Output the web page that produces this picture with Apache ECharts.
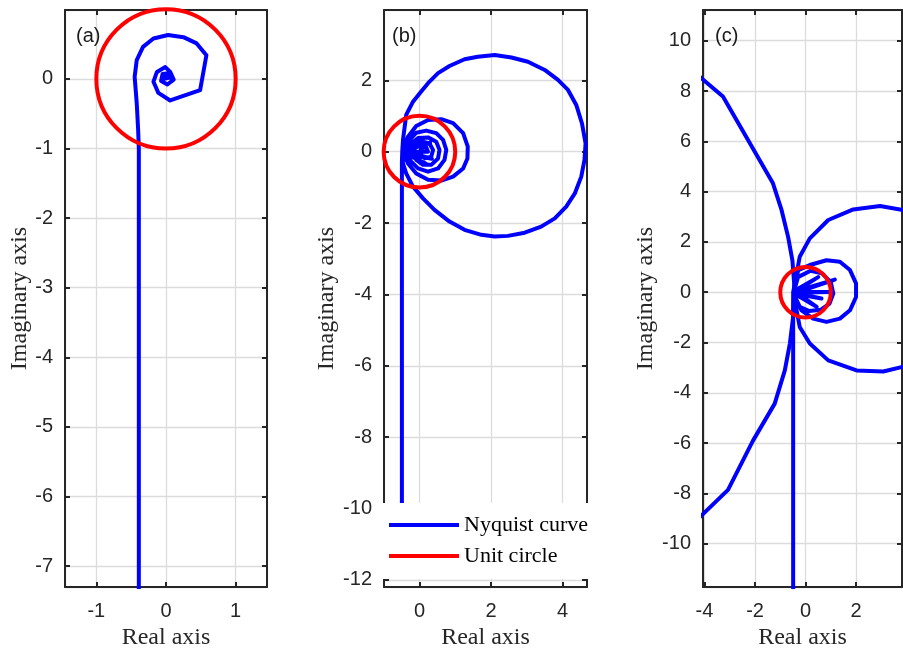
<!DOCTYPE html>
<html><head><meta charset="utf-8">
<script src="https://cdn.jsdelivr.net/npm/echarts@6/dist/echarts.min.js"></script>
<style>html,body{margin:0;padding:0;background:#fff}#c{width:903px;height:653px}</style>
</head><body><div id="c"></div>
<script>
// ---------- data ----------
const panelLabels = ['(a)', '(b)', '(c)'];
const xName = 'Real axis';
const yName = 'Imaginary axis';
const legendNames = ['Nyquist curve', 'Unit circle'];

const xRanges = [[-1.45, 1.45], [-0.99, 4.68], [-4.06, 3.82]];
const yRanges = [[-7.3, 0.99], [-12.2, 3.97], [-11.72, 11.22]];
const xSteps = [1, 2, 2];
const ySteps = [1, 2, 2];

// panel (a) Nyquist curve
const nyqA = [
  [-0.39, -7.6], [-0.39, -1.0], [-0.40, -0.73], [-0.42, -0.35], [-0.45, 0.03],
  [-0.42, 0.27], [-0.33, 0.46], [-0.18, 0.58], [0.03, 0.63], [0.25, 0.60],
  [0.44, 0.51], [0.58, 0.34], [0.49, -0.16], [0.06, -0.31], [-0.11, -0.20],
  [-0.18, -0.04], [-0.13, 0.10], [-0.01, 0.17], [0.06, 0.10], [0.11, -0.01],
  [0.02, -0.08], [-0.07, -0.03], [-0.05, 0.07], [0.03, 0.08], [0.06, 0.02],
  [-0.03, 0.00], [0.02, 0.05], [0.00, 0.01]
];

// panel (b) Nyquist curve
const nyqB = [
  [-0.49, -11.85], [-0.49, -0.3], [-0.48, 0.0], [-0.46, 0.33], [-0.37, 1.03], [-0.18, 1.40],
  [0.01, 1.64], [0.24, 1.92], [0.52, 2.20], [0.84, 2.40], [1.26, 2.59],
  [1.63, 2.66], [2.10, 2.71], [2.57, 2.64], [3.03, 2.52], [3.50, 2.29],
  [3.87, 2.01], [4.15, 1.73], [4.38, 1.31], [4.54, 0.79], [4.64, 0.23],
  [4.61, -0.23], [4.52, -0.70], [4.34, -1.17], [4.10, -1.54], [3.78, -1.87],
  [3.40, -2.10], [2.94, -2.27], [2.47, -2.36], [2.10, -2.38], [1.73, -2.33],
  [1.26, -2.19], [0.84, -1.96], [0.42, -1.63], [0.10, -1.31], [-0.18, -0.98],
  [-0.37, -0.61], [-0.46, -0.33], [-0.48, 0.0],
  [-0.32, 0.42], [-0.09, 0.72], [0.24, 0.89], [0.61, 0.91], [0.94, 0.80],
  [1.22, 0.52], [1.35, 0.14], [1.34, -0.19], [1.22, -0.47], [0.94, -0.70],
  [0.61, -0.81], [0.24, -0.79], [-0.09, -0.61], [-0.32, -0.33], [-0.45, 0.0],
  [-0.27, 0.33], [-0.09, 0.53], [0.19, 0.59], [0.47, 0.52], [0.66, 0.33],
  [0.75, 0.05], [0.70, -0.23], [0.52, -0.47], [0.24, -0.56], [-0.04, -0.47],
  [-0.23, -0.28], [-0.40, 0.0],
  [-0.23, 0.23], [-0.04, 0.38], [0.24, 0.40], [0.47, 0.28], [0.56, 0.05],
  [0.52, -0.19], [0.33, -0.37], [0.10, -0.37], [-0.09, -0.23], [-0.18, -0.05],
  [-0.09, 0.19], [0.10, 0.28], [0.28, 0.23], [0.38, 0.05], [0.33, -0.14],
  [0.15, -0.19], [0.01, -0.05], [0.05, 0.10], [0.19, 0.12], [0.24, 0.0],
  [-0.48, 0.0], [0.30, 0.25], [-0.48, 0.05], [0.35, -0.20], [-0.48, -0.05],
  [0.10, 0.35], [-0.48, 0.0], [0.20, -0.35], [-0.48, 0.0]
];

// panel (c) Nyquist curve: outer left branches
const nyqC1 = [
  [-4.3, 8.66], [-3.27, 7.78], [-1.29, 4.33], [-0.95, 3.27], [-0.69, 2.20],
  [-0.52, 1.27], [-0.45, 0.35], [-0.45, 0.0], [-0.49, -0.98], [-0.62, -2.04],
  [-0.82, -3.11], [-1.22, -4.43], [-2.08, -5.90], [-3.07, -7.86], [-4.3, -9.05]
];
// panel (c) Nyquist curve: vertical asymptote and loops
const nyqC2 = [
  [-0.49, -12.2], [-0.49, 0.0], [-0.45, 0.2], [-0.23, 1.41], [0.17, 2.14],
  [0.90, 2.87], [1.89, 3.29], [2.95, 3.43], [3.86, 3.27], [4.6, 2.9],
  [4.6, -2.6], [3.92, -2.95], [3.08, -3.15], [2.02, -3.11], [0.90, -2.71],
  [0.17, -2.04], [-0.23, -1.38], [-0.45, -0.2],
  [-0.45, 0.1], [-0.29, 0.88], [0.17, 1.08], [0.83, 1.27], [1.36, 1.21],
  [1.76, 0.88], [2.00, 0.35], [2.00, -0.19], [1.76, -0.72], [1.36, -1.05],
  [0.83, -1.18], [0.30, -1.05], [-0.16, -0.72], [-0.45, -0.1],
  [-0.45, 0.05], [-0.3, 0.6], [0.2, 0.85], [0.65, 0.75], [1.0, 0.4],
  [1.1, -0.05], [0.95, -0.45], [0.6, -0.7], [0.15, -0.75], [-0.3, -0.55],
  [-0.45, -0.05],
  [-0.45, 0.0], [1.16, 0.50], [-0.45, 0.02], [0.96, 0.01], [-0.45, -0.02],
  [0.63, -0.25], [-0.45, -0.05], [0.44, -0.58], [-0.45, 0.05], [0.5, 0.6],
  [-0.45, 0.0]
];

// unit circle: centre x, centre y, radius
const unitCircle = [[0, 0, 1]];

// ---------- layout / style ----------
const grids = [
  { left: 65, top: 10, width: 202, height: 577 },
  { left: 384, top: 10, width: 203, height: 577 },
  { left: 703, top: 10, width: 199, height: 577 }
];
const yNameGaps = [29, 37, 41];
const labelPos = [[76, 26], [392, 26], [715, 26]];
const frame = '#262626';
const txt = '#262626';

function mkAxis(dim, i, primary) {
  const rng = dim === 'x' ? xRanges[i] : yRanges[i];
  const step = dim === 'x' ? xSteps[i] : ySteps[i];
  const ax = {
    type: 'value', gridIndex: i, min: rng[0], max: rng[1],
    minInterval: step, maxInterval: step, splitNumber: 8,
    position: dim === 'x' ? (primary ? 'bottom' : 'top') : (primary ? 'left' : 'right'),
    axisLine: { show: true, onZero: false, lineStyle: { color: frame, width: 2 } },
    axisTick: { show: true, inside: true, length: 5, lineStyle: { color: frame, width: 2 } },
    splitLine: { show: primary, lineStyle: { color: '#dcdcdc', width: 1.3 } },
    axisLabel: {
      show: primary, showMinLabel: false, showMaxLabel: false, margin: dim === 'x' ? 14 : 12,
      fontFamily: 'Liberation Sans', fontSize: 20, color: txt
    },
    silent: true
  };
  if (primary) {
    ax.name = dim === 'x' ? xName : yName;
    ax.nameLocation = 'middle';
    ax.nameGap = dim === 'x' ? 39 : yNameGaps[i];
    ax.nameTextStyle = { fontFamily: 'Liberation Serif', fontSize: 24, color: txt };
  }
  return ax;
}

const xAxes = [], yAxes = [];
for (let i = 0; i < 3; i++) {
  xAxes.push(mkAxis('x', i, true), mkAxis('x', i, false));
  yAxes.push(mkAxis('y', i, true), mkAxis('y', i, false));
}

function nyq(data, i) {
  return {
    type: 'line', name: legendNames[0], data: data,
    xAxisIndex: 2 * i, yAxisIndex: 2 * i,
    showSymbol: false, symbol: 'none', clip: true, silent: true, z: 2,
    itemStyle: { color: '#0000ff' },
    lineStyle: { color: '#0000ff', width: 4, join: 'round' }
  };
}
function circ(i) {
  return {
    type: 'custom', name: legendNames[1], data: unitCircle,
    xAxisIndex: 2 * i, yAxisIndex: 2 * i, clip: false, silent: true, z: 3,
    encode: { x: 0, y: 1 },
    itemStyle: { color: '#ff0000' },
    renderItem: function (params, api) {
      const c = api.coord([api.value(0), api.value(1)]);
      const r = api.size([api.value(2), 0])[0];
      return { type: 'circle', shape: { cx: c[0], cy: c[1], r: r },
        style: { fill: 'none', stroke: '#ff0000', lineWidth: 4 } };
    }
  };
}

const series = [
  nyq(nyqA, 0), circ(0),
  nyq(nyqB, 1), circ(1),
  nyq(nyqC1, 2), nyq(nyqC2, 2), circ(2)
];

const chart = echarts.init(document.getElementById('c'), null, { renderer: 'canvas' });
chart.setOption({
  animation: false,
  backgroundColor: '#fff',
  grid: grids.map(g => Object.assign({ show: false, containLabel: false, outerBoundsMode: 'none' }, g)),
  xAxis: xAxes,
  yAxis: yAxes,
  title: panelLabels.map((t, i) => ({
    text: t, left: labelPos[i][0], top: labelPos[i][1], padding: 0,
    textStyle: { fontFamily: 'Liberation Sans', fontSize: 20, fontWeight: 'normal', color: '#1a1a1a' }
  })),
  legend: {
    data: legendNames, orient: 'vertical', left: 382, top: 503,
    padding: [11, 2, 12, 7], itemGap: 9, itemWidth: 70, itemHeight: 4,
    icon: 'rect', symbolKeepAspect: false, selectedMode: false,
    backgroundColor: '#fff', borderWidth: 0, z: 10,
    textStyle: { fontFamily: 'Liberation Serif', fontSize: 22, color: '#000', lineHeight: 20 }
  },
  series: series
});
</script>
</body></html>
